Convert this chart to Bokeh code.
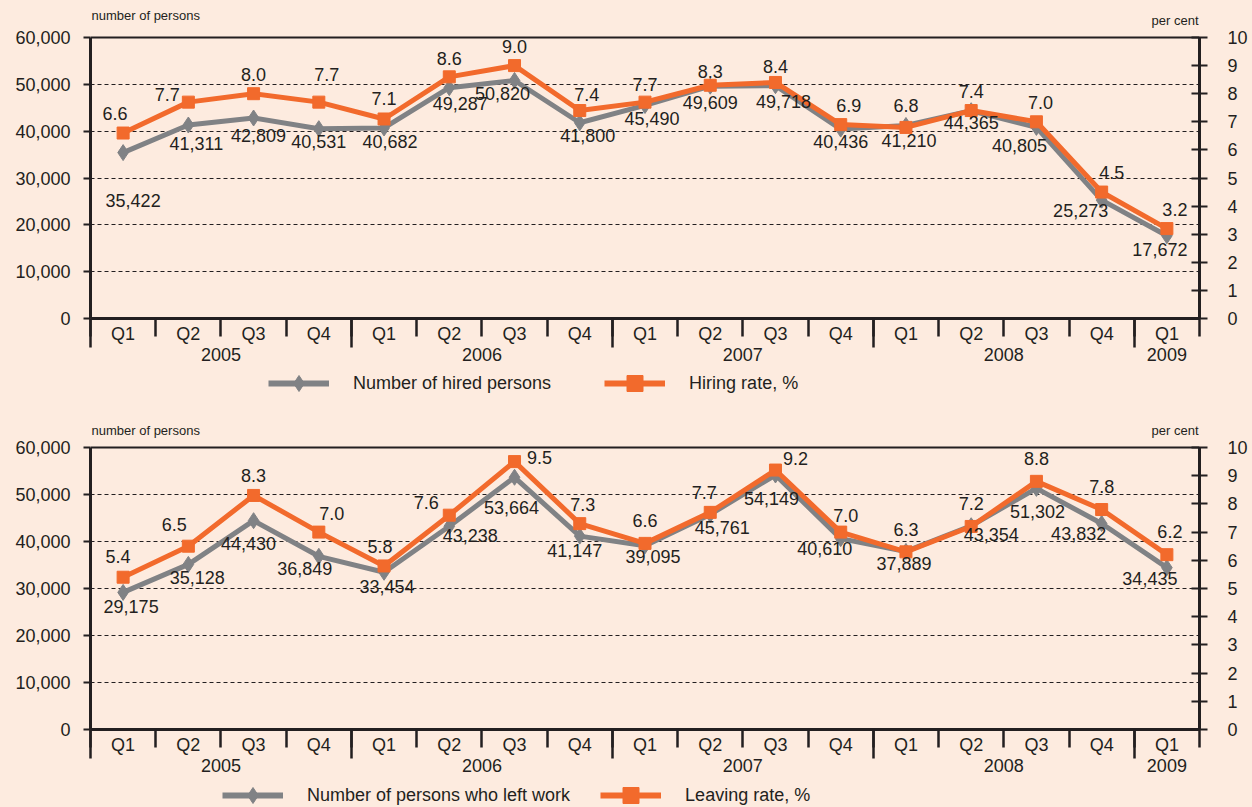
from bokeh.plotting import figure
from bokeh.models import (Range1d, LinearAxis, FixedTicker, NumeralTickFormatter, Grid,
                          ColumnDataSource, Legend, LegendItem, Label, Span)
from bokeh.layouts import column
from bokeh.embed import file_html
from bokeh.resources import INLINE
from bokeh.core.properties import value

# ---------------- data ----------------
quarters = ["Q1", "Q2", "Q3", "Q4", "Q1", "Q2", "Q3", "Q4", "Q1", "Q2", "Q3", "Q4",
            "Q1", "Q2", "Q3", "Q4", "Q1"]
years = ["2005", "2006", "2007", "2008", "2009"]
quarters_per_year = [4, 4, 4, 4, 1]

hired = [35422, 41311, 42809, 40531, 40682, 49287, 50820, 41800, 45490, 49609, 49718,
         40436, 41210, 44365, 40805, 25273, 17672]
hiring_rate = [6.6, 7.7, 8.0, 7.7, 7.1, 8.6, 9.0, 7.4, 7.7, 8.3, 8.4, 6.9, 6.8, 7.4, 7.0, 4.5, 3.2]

left_work = [29175, 35128, 44430, 36849, 33454, 43238, 53664, 41147, 39095, 45761, 54149,
             40610, 37889, 43354, 51302, 43832, 34435]
leaving_rate = [5.4, 6.5, 8.3, 7.0, 5.8, 7.6, 9.5, 7.3, 6.6, 7.7, 9.2, 7.0, 6.3, 7.2, 8.8, 7.8, 6.2]

count_ticks = [0, 10000, 20000, 30000, 40000, 50000, 60000]
rate_ticks = [0, 1, 2, 3, 4, 5, 6, 7, 8, 9, 10]
COUNT_MAX = 60000
RATE_MAX = 10

# label placement offsets in pixels (dx, dy; dy positive = down)
top_count_off = [(10, 48), (8, 18), (5, 17), (0, 13), (6, 14), (11, 16), (-12, 13), (8, 13), (7, 13),
                 (0, 16), (8, 16), (0, 12), (3, 15), (0, 12), (-17, 18), (-21, 10), (-7, 14)]
top_rate_off = [(-8, -20), (-21, -8), (0, -19), (8, -28), (0, -20), (0, -18), (0, -19), (7, -16),
                (0, -18), (0, -14), (0, -16), (8, -19), (0, -22), (0, -19), (4, -19), (10, -20), (8, -19)]
bot_count_off = [(8, 14), (9, 13), (-5, 23), (-14, 12), (3, 14), (21, 9), (-3, 30), (-5, 14), (8, 11),
                 (12, 13), (-4, 24), (-16, 10), (-2, 12), (20, 9), (1, 23), (-23, 10), (-17, 11)]
bot_rate_off = [(-5, -21), (-14, -22), (0, -20), (13, -19), (-4, -19), (-23, -13), (25, -4), (3, -19),
                (0, -23), (-6, -20), (20, -12), (5, -17), (0, -22), (0, -23), (0, -23), (0, -23), (3, -23)]

# ---------------- style ----------------
BG = "#FDEBDF"
DARK = "#231F20"
GRAY = "#808285"
ORANGE = "#F26A2C"
FONT = "Liberation Sans"
W = 1252


def make_panel(counts, rates, height, plot_h, ext, top_border, bottom_border,
               c_off, r_off, unit_gap_left, unit_gap_right):
    # frame extends `ext` px above the 60,000 line so the unit captions live inside it
    k = (plot_h + ext) / plot_h
    p = figure(width=W, height=height, x_range=Range1d(-0.5, 16.5),
               y_range=Range1d(0, COUNT_MAX * k),
               x_axis_type=None, y_axis_type=None, output_backend="svg", toolbar_location=None,
               min_border_left=90, min_border_right=53, min_border_top=top_border,
               min_border_bottom=bottom_border,
               background_fill_color=BG, border_fill_color=BG, outline_line_color=None)
    p.extra_y_ranges = {"rate": Range1d(0, RATE_MAX * k)}

    p.add_layout(Grid(dimension=1, ticker=FixedTicker(ticks=count_ticks[1:-1]),
                      grid_line_color=DARK, grid_line_dash="4 3", grid_line_width=1.2))
    p.add_layout(Span(location=COUNT_MAX, dimension="width", line_color=DARK, line_width=2))

    ax_l = LinearAxis(ticker=FixedTicker(ticks=count_ticks), bounds=(0, COUNT_MAX),
                      formatter=NumeralTickFormatter(format="0,0"),
                      axis_line_width=3, axis_line_color=DARK,
                      major_tick_out=7, major_tick_in=0, major_tick_line_width=2,
                      major_tick_line_color=DARK, minor_tick_line_color=None,
                      major_label_standoff=13, major_label_text_font=FONT,
                      major_label_text_font_size="18px", major_label_text_color=DARK)
    p.add_layout(ax_l, "left")

    ax_r = LinearAxis(y_range_name="rate", ticker=FixedTicker(ticks=rate_ticks),
                      bounds=(0, RATE_MAX),
                      axis_line_width=3, axis_line_color=DARK,
                      major_tick_out=8, major_tick_in=8, major_tick_line_width=2,
                      major_tick_line_color=DARK, minor_tick_line_color=None,
                      major_label_standoff=20, major_label_text_font=FONT,
                      major_label_text_font_size="18px", major_label_text_color=DARK)
    p.add_layout(ax_r, "right")

    n = len(quarters)
    q_ax = LinearAxis(ticker=FixedTicker(ticks=list(range(n)),
                                         minor_ticks=[i - 0.5 for i in range(n + 1)]),
                      major_label_overrides={i: q for i, q in enumerate(quarters)},
                      axis_line_width=3, axis_line_color=DARK,
                      major_tick_line_color=None, major_tick_out=0, major_tick_in=0,
                      minor_tick_out=18, minor_tick_in=0, minor_tick_line_width=2.5,
                      minor_tick_line_color=DARK,
                      major_label_standoff=-13, major_label_text_font=FONT,
                      major_label_text_font_size="18px", major_label_text_color=DARK)
    p.add_layout(q_ax, "below")

    centers, bounds, start = [], [], 0
    for kq in quarters_per_year:
        centers.append(start + (kq - 1) / 2)
        bounds.append(start - 0.5)
        start += kq
    y_ax = LinearAxis(ticker=FixedTicker(ticks=centers, minor_ticks=bounds),
                      major_label_overrides={c: y for c, y in zip(centers, years)},
                      axis_line_color=None, major_tick_line_color=None,
                      major_tick_out=0, major_tick_in=0,
                      minor_tick_in=28, minor_tick_out=1, minor_tick_line_width=2.5,
                      minor_tick_line_color=DARK,
                      major_label_standoff=0, major_label_text_font=FONT,
                      major_label_text_font_size="18px", major_label_text_color=DARK)
    p.add_layout(y_ax, "below")

    src = ColumnDataSource(dict(
        x=list(range(n)), c=counts, r=rates,
        clbl=[f"{v:,}" for v in counts], rlbl=[f"{v:.1f}" for v in rates],
        cdx=[o[0] for o in c_off], cdy=[o[1] for o in c_off],
        rdx=[o[0] for o in r_off], rdy=[o[1] for o in r_off]))

    p.line("x", "c", source=src, line_color=GRAY, line_width=5)
    p.scatter("x", "c", source=src, marker="diamond", size=16, fill_color=GRAY, line_color=GRAY)
    p.line("x", "r", source=src, y_range_name="rate", line_color=ORANGE, line_width=5)
    p.scatter("x", "r", source=src, y_range_name="rate", marker="square", size=12,
              fill_color=ORANGE, line_color=ORANGE)

    p.text("x", "c", text="clbl", x_offset="cdx", y_offset="cdy", source=src,
           text_align="center", text_baseline="middle", text_font=value(FONT),
           text_font_size="18px", text_color=DARK)
    p.text("x", "r", text="rlbl", x_offset="rdx", y_offset="rdy", source=src, y_range_name="rate",
           text_align="center", text_baseline="middle", text_font=value(FONT),
           text_font_size="18px", text_color=DARK)

    p.add_layout(Label(x=-0.5, y=COUNT_MAX, x_offset=1, y_offset=unit_gap_left,
                       text="number of persons", text_font=FONT, text_font_size="13px",
                       text_color=DARK, text_align="left", text_baseline="middle"))
    p.add_layout(Label(x=16.5, y=COUNT_MAX, x_offset=-1, y_offset=unit_gap_right,
                       text="per cent", text_font=FONT, text_font_size="13px",
                       text_color=DARK, text_align="right", text_baseline="middle"))
    return p, src


def make_legend(src, count_name, rate_name, height, gw, gh, stand, spacing, fsize, lx, ly):
    # legend strip; its renderers use the panel's data but lie outside this strip's ranges
    q = figure(width=W, height=height, x_range=Range1d(-100, -99), y_range=Range1d(-100, -99),
               x_axis_type=None, y_axis_type=None, output_backend="svg", toolbar_location=None,
               min_border=0, outline_line_color=None,
               background_fill_color=BG, border_fill_color=BG)
    gl = q.line("x", "c", source=src, line_color=GRAY, line_width=6)
    gm = q.scatter("x", "c", source=src, marker="diamond", size=16,
                   fill_color=GRAY, line_color=GRAY)
    ol = q.line("x", "r", source=src, line_color=ORANGE, line_width=6)
    om = q.scatter("x", "r", source=src, marker="square", size=12,
                   fill_color=ORANGE, line_color=ORANGE)
    legend = Legend(items=[LegendItem(label=count_name, renderers=[gl, gm]),
                           LegendItem(label=rate_name, renderers=[ol, om])],
                    orientation="horizontal", location=(lx, ly),
                    glyph_width=gw, glyph_height=gh, label_standoff=stand, spacing=spacing,
                    padding=0, margin=0, border_line_color=None, background_fill_alpha=0,
                    label_text_font=FONT, label_text_font_size=fsize, label_text_color=DARK,
                    label_height=gh)
    q.add_layout(legend)
    return q


p1, s1 = make_panel(hired, hiring_rate, height=370, plot_h=281, ext=30,
                    top_border=7, bottom_border=52,
                    c_off=top_count_off, r_off=top_rate_off,
                    unit_gap_left=22, unit_gap_right=17)
l1 = make_legend(s1, "Number of hired persons", "Hiring rate, %", height=48,
                 gw=61, gh=40, stand=24, spacing=53, fsize="18px", lx=178, ly=15)
p2, s2 = make_panel(left_work, leaving_rate, height=363, plot_h=282, ext=27,
                    top_border=2, bottom_border=52,
                    c_off=bot_count_off, r_off=bot_rate_off,
                    unit_gap_left=17, unit_gap_right=17)
l2 = make_legend(s2, "Number of persons who left work", "Leaving rate, %", height=26,
                 gw=61, gh=40, stand=24, spacing=30, fsize="18px", lx=132, ly=-8)

layout = column(p1, l1, p2, l2, spacing=0)
html = file_html(layout, INLINE, title="Hired and left persons")
html = html.replace("</head>", "<style>html,body{background-color:#FDEBDF;}</style></head>", 1)
open("out.html", "w").write(html)
